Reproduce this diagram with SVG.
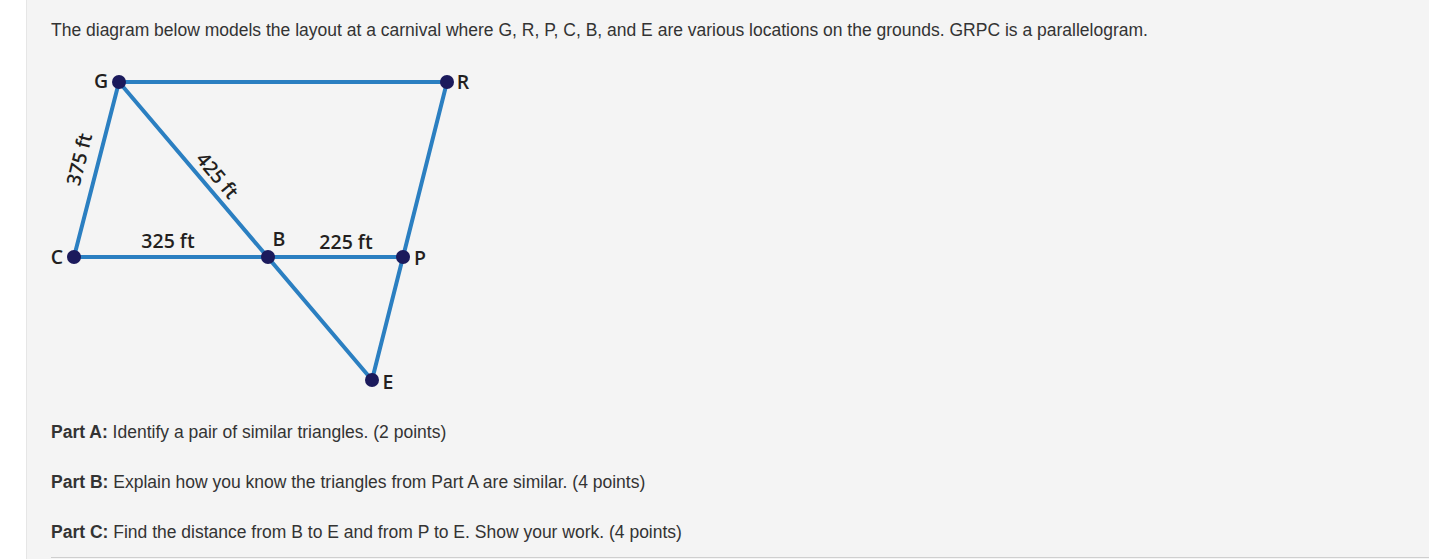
<svg xmlns="http://www.w3.org/2000/svg" width="1429" height="559" viewBox="0 0 1429 559">
<style>
.q{font-family:"Liberation Sans",Arial,sans-serif;font-size:17.5px;fill:#333}
.b{font-weight:bold}
.lbl{font-family:"Open Sans","Noto Sans",sans-serif;font-weight:600;font-size:19.5px;fill:#231f20}
.edge{stroke:#2b7fc1;stroke-width:4;stroke-linecap:round;fill:none}
.dot{fill:#1b1a5c}
</style>
<rect x="0" y="0" width="1429" height="559" fill="#ffffff"/>
<rect x="26" y="0" width="1403" height="559" fill="#f4f4f4"/>
<line x1="26.5" y1="0" x2="26.5" y2="559" stroke="#e6e6e6"/>
<line x1="51" y1="557.5" x2="1429" y2="557.5" stroke="#cfcfcf"/>
<text class="q" x="51" y="36">The diagram below models the layout at a carnival where G, R, P, C, B, and E are various locations on the grounds. GRPC is a parallelogram.</text>
<g id="connectors">
<line class="edge" x1="119" y1="82" x2="447" y2="82"/>
<line class="edge" x1="119" y1="82" x2="74" y2="257"/>
<line class="edge" x1="447" y1="82" x2="403" y2="257"/>
<line class="edge" x1="403" y1="257" x2="372" y2="380"/>
<line class="edge" x1="74" y1="257" x2="403" y2="257"/>
<line class="edge" x1="119" y1="82" x2="372" y2="380"/>
</g>
<g id="node-G"><circle class="dot" cx="119" cy="82" r="7"/><text class="lbl" x="101" y="88" text-anchor="middle">G</text></g>
<g id="node-R"><circle class="dot" cx="447" cy="82" r="7"/><text class="lbl" x="463" y="89" text-anchor="middle">R</text></g>
<g id="node-C"><circle class="dot" cx="74" cy="257" r="7"/><text class="lbl" x="57" y="264" text-anchor="middle">C</text></g>
<g id="node-B"><circle class="dot" cx="268" cy="257" r="7"/><text class="lbl" x="279" y="246" text-anchor="middle">B</text></g>
<g id="node-P"><circle class="dot" cx="403" cy="257" r="7"/><text class="lbl" x="420" y="265" text-anchor="middle">P</text></g>
<g id="node-E"><circle class="dot" cx="372" cy="380" r="7"/><text class="lbl" x="388" y="389" text-anchor="middle">E</text></g>
<g id="edge-labels">
<text class="lbl" x="168" y="248" text-anchor="middle">325 ft</text>
<text class="lbl" x="346" y="249" text-anchor="middle">225 ft</text>
<text class="lbl" transform="translate(86,161) rotate(-76)" text-anchor="middle">375 ft</text>
<text class="lbl" transform="translate(212,180) rotate(50)" text-anchor="middle">425 ft</text>
</g>
<text class="q" x="51" y="438"><tspan class="b">Part A:</tspan> Identify a pair of similar triangles. (2 points)</text>
<text class="q" x="51" y="488"><tspan class="b">Part B:</tspan> Explain how you know the triangles from Part A are similar. (4 points)</text>
<text class="q" x="51" y="538"><tspan class="b">Part C:</tspan> Find the distance from B to E and from P to E. Show your work. (4 points)</text>
</svg>
